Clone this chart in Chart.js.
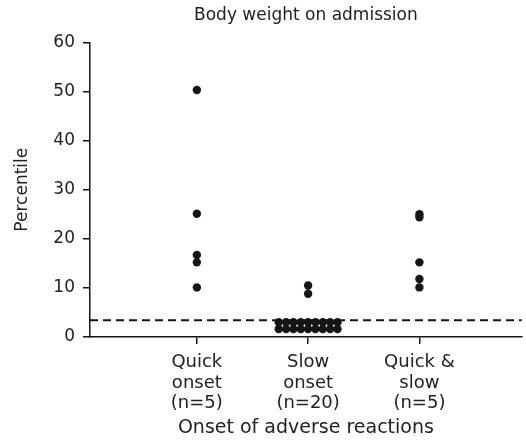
<!DOCTYPE html>
<html>
<head>
<meta charset="utf-8">
<script src="https://cdn.jsdelivr.net/npm/chart.js@4.4.1/dist/chart.umd.min.js"></script>
<style>
  html, body { margin: 0; padding: 0; background: #ffffff; }
  #wrap { width: 526px; height: 442px; }
</style>
</head>
<body>
<div id="wrap"><canvas id="c" width="526" height="442"></canvas></div>
<script>
// ---- data ----
const categories = [
  ["Quick", "onset", "(n=5)"],
  ["Slow", "onset", "(n=20)"],
  ["Quick &", "slow", "(n=5)"]
];
const quickOnset = [50.3, 25.1, 16.7, 15.2, 10.1];
const slowOnset = [10.5, 8.8,
  3.0, 3.0, 3.0, 3.0, 3.0, 3.0, 3.0, 3.0, 3.0,
  1.6, 1.6, 1.6, 1.6, 1.6, 1.6, 1.6, 1.6, 1.6];
const quickAndSlow = [25.0, 24.4, 15.2, 11.8, 10.1];
const thresholdValue = [3.4];
const yTicks = [0, 10, 20, 30, 40, 50, 60];

const chartTitle = "Body weight on admission";
const xTitle = "Onset of adverse reactions";
const yTitle = "Percentile";

// ---- build scatter points: identical values in a group are spread side by side ----
function groupPoints(values, center, step) {
  const counts = {};
  values.forEach(v => { counts[v] = (counts[v] || 0) + 1; });
  const seen = {};
  return values.map(v => {
    const n = counts[v];
    const i = seen[v] || 0;
    seen[v] = i + 1;
    return { x: center + (i - (n - 1) / 2) * step, y: v };
  });
}
const spread = 0.066;
const points = [].concat(
  groupPoints(quickOnset, 1, spread),
  groupPoints(slowOnset, 2, spread),
  groupPoints(quickAndSlow, 3, spread)
);

const xMin = 0.04, xMax = 3.92;
const ink = '#151515';
const font = "'DejaVu Sans', sans-serif";

new Chart(document.getElementById('c'), {
  type: 'scatter',
  data: {
    datasets: [
      {
        data: points,
        pointRadius: 4.2,
        pointHoverRadius: 4.2,
        pointBackgroundColor: ink,
        pointBorderColor: ink,
        pointBorderWidth: 0
      },
      {
        type: 'line',
        data: [{ x: xMin, y: thresholdValue[0] }, { x: xMax, y: thresholdValue[0] }],
        borderColor: ink,
        borderWidth: 2,
        borderDash: [8, 5],
        pointRadius: 0,
        fill: false
      }
    ]
  },
  options: {
    responsive: false,
    animation: false,
    layout: { padding: { left: 8, right: 2, top: 0, bottom: 0 } },
    plugins: {
      legend: { display: false },
      tooltip: { enabled: false },
      title: {
        display: true,
        fullSize: false,
        text: chartTitle,
        color: '#222',
        font: { family: font, size: 17, weight: 'normal' },
        padding: { top: 5, bottom: 17 }
      }
    },
    scales: {
      x: {
        type: 'linear',
        min: xMin,
        max: xMax,
        afterBuildTicks: s => { s.ticks = [1, 2, 3].map(v => ({ value: v })); },
        ticks: {
          autoSkip: false,
          maxRotation: 0,
          padding: 8,
          color: '#222',
          font: { family: font, size: 18, lineHeight: 1.15 },
          callback: v => categories[Math.round(v) - 1] || ''
        },
        grid: { drawOnChartArea: false, drawTicks: true, tickLength: 7, color: ink, lineWidth: 1.5 },
        border: { display: true, color: ink, width: 1.5 },
        title: {
          display: true,
          text: xTitle,
          color: '#222',
          font: { family: font, size: 19 },
          padding: { top: 2, bottom: 3 }
        },
        afterFit: s => { s.height = 105; }
      },
      y: {
        min: 0,
        max: 60,
        afterBuildTicks: s => { s.ticks = yTicks.map(v => ({ value: v })); },
        ticks: {
          padding: 8,
          color: '#222',
          font: { family: font, size: 17 }
        },
        grid: { drawOnChartArea: false, drawTicks: true, tickLength: 7, color: ink, lineWidth: 1.5 },
        border: { display: true, color: ink, width: 1.5 },
        title: {
          display: true,
          text: yTitle,
          color: '#222',
          font: { family: font, size: 17 },
          padding: { top: 4, bottom: 4 }
        },
        afterFit: s => { s.width = 82; }
      }
    }
  }
});
</script>
</body>
</html>
